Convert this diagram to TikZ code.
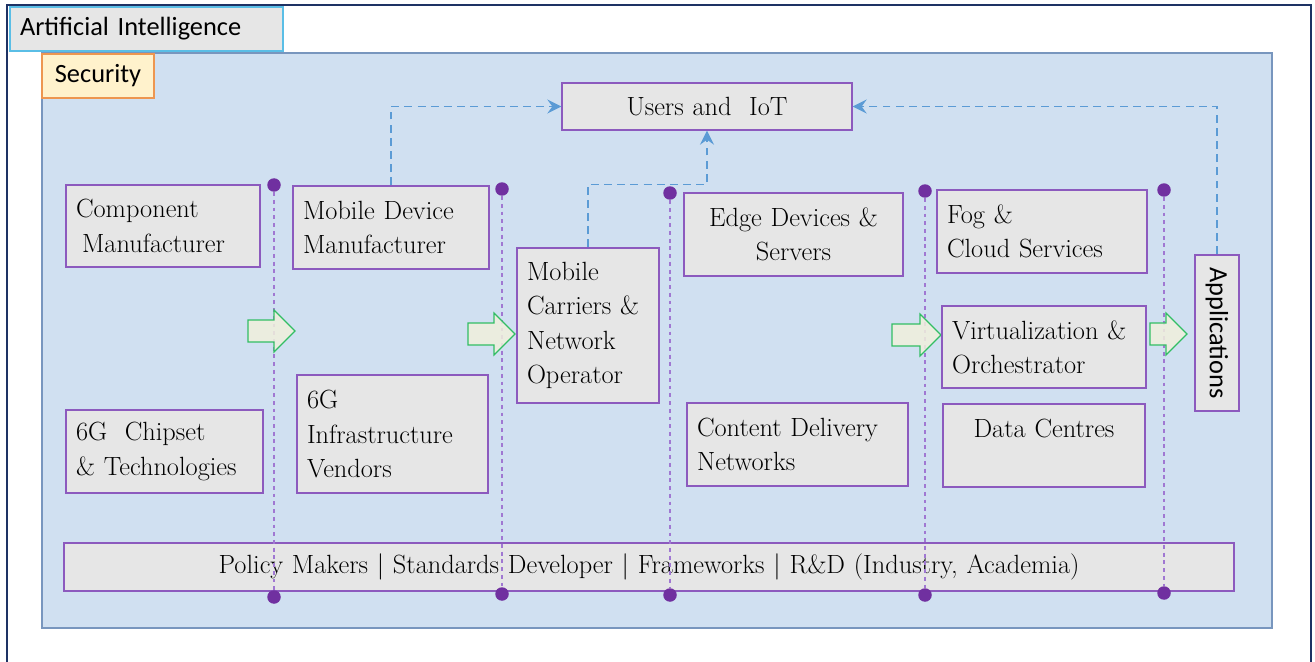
\documentclass[tikz,border=0pt]{standalone}
\usepackage{fontspec}
\usepackage{xcolor}
\usepackage{tikz}
\usetikzlibrary{arrows.meta}
\newfontfamily\calibri{Carlito}
\definecolor{bgblue}{RGB}{208,224,241}
\definecolor{bgline}{RGB}{120,150,190}
\definecolor{boxfill}{RGB}{230,230,230}
\definecolor{boxline}{RGB}{140,90,190}
\definecolor{dotcol}{RGB}{112,48,160}
\definecolor{vlinecol}{RGB}{160,120,210}
\definecolor{linkblue}{RGB}{91,155,213}
\definecolor{ailine}{RGB}{90,190,230}
\definecolor{secfill}{RGB}{255,242,204}
\definecolor{secline}{RGB}{237,150,80}
\definecolor{arrowline}{RGB}{50,190,100}
\definecolor{arrowfill}{RGB}{240,240,220}
\definecolor{framecol}{RGB}{30,50,100}

\begin{document}
\begin{tikzpicture}[x=0.02cm,y=-0.02cm,
    box/.style={draw=boxline,fill=boxfill,line width=0.8pt,font=\fontsize{15}{19.5}\selectfont,inner xsep=0.2cm,inner ysep=0pt},
    lbox/.style={box,align=left},
    cbox/.style={box,align=center},
    sbox/.style={font=\calibri\fontsize{15}{18}\selectfont,line width=0.8pt,inner ysep=0pt},
    dot/.style={circle,fill=dotcol,inner sep=0pt,minimum size=0.27cm},
    vline/.style={draw=vlinecol,dash pattern=on 2.2pt off 2.2pt,line width=0.7pt},
    link/.style={draw=linkblue,dash pattern=on 4.5pt off 3pt,line width=0.9pt,-{Stealth[length=2.8mm,width=2.8mm,inset=1mm]}},
    pics/blockarrow/.style={code={\draw[draw=arrowline,fill=arrowfill,fill opacity=0.85,line width=0.7pt] (0,-11) -- (#1-21,-11) -- (#1-21,-21) -- (#1,0) -- (#1-21,21) -- (#1-21,11) -- (0,11) -- cycle;}}]
    \useasboundingbox (0,0) rectangle (1315,662);
    % frame and layers
    \draw[framecol,line width=0.8pt] (7,662) -- (7,5) -- (1311,5) -- (1311,662);
    \node[sbox,draw=ailine,fill=boxfill,align=left,text width=5.06cm,inner xsep=0.2cm,minimum height=0.88cm] (ai) at (146.5,29) {Artificial Intelligence};
    \draw[fill=bgblue,draw=bgline,line width=0.8pt] (42,53) rectangle (1272,628);
    \node[sbox,draw=secline,fill=secfill,minimum width=2.24cm,minimum height=0.88cm] (sec) at (98,76) {Security};
    \node[cbox,text width=23cm,minimum height=0.96cm] (policy) at (649,567) {Policy Makers | Standards Developer | Frameworks | R\&D (Industry, Academia)};
    % stage separators
    \foreach \x/\t/\b [count=\i] in {274/185/597,502/189/594,670/193/595,925/191/595,1164/190/593}{
      \node[dot] (top\i) at (\x,\t) {};
      \node[dot] (bot\i) at (\x,\b) {};
      \draw[vline] (top\i) -- (bot\i);
    }
    \pic at (248,331) {blockarrow=47};
    \pic at (468,334) {blockarrow=47};
    \pic at (892,335) {blockarrow=49};
    \pic at (1150,334) {blockarrow=37};
    % players
    \node[lbox,text width=3.48cm,minimum height=1.64cm] (comp) at (163,226) {Component\\\hspace{0.12cm}Manufacturer};
    \node[lbox,text width=3.54cm,minimum height=1.66cm] (chip) at (164.5,451.5) {6G~~Chipset\\\&~Technologies};
    \node[lbox,text width=3.52cm,minimum height=1.66cm] (mobdev) at (391,227.5) {Mobile~Device\\Manufacturer};
    \node[lbox,text width=3.42cm,minimum height=2.36cm] (infra) at (392.5,434) {6G\\Infrastructure\\Vendors};
    \node[lbox,text width=2.44cm,minimum height=3.10cm] (carrier) at (588,325.5) {Mobile\\Carriers~\&\\Network\\Operator};
    \node[cbox,text width=5.4cm,minimum height=0.94cm] (users) at (707,106.5) {Users and~~IoT};
    \node[cbox,text width=3.98cm,minimum height=1.66cm] (edge) at (793.5,234.5) {Edge~Devices~\&\\Servers};
    \node[lbox,text width=4.02cm,minimum height=1.66cm] (cdn) at (797.5,444.5) {Content~Delivery\\Networks};
    \node[lbox,text width=3.8cm,minimum height=1.66cm] (fog) at (1042,231.5) {Fog \&\\Cloud~Services};
    \node[lbox,text width=3.68cm,minimum height=1.64cm] (virt) at (1044,347) {Virtualization~\&\\Orchestrator};
    \node[cbox,text width=3.64cm,minimum height=1.66cm] (dc) at (1044,445.5) {Data Centres\\\mbox{}};
    \node[sbox,draw=boxline,fill=boxfill,rotate=-90,minimum width=3.12cm,minimum height=0.88cm,inner xsep=0pt] (apps) at (1217,333) {Applications};
    % links to users
    \draw[link] (mobdev.north) |- (users.west);
    \draw[link] (carrier.north) -- ++(0,-63) -| (users.south);
    \draw[link] (apps.west) |- (users.east);
\end{tikzpicture}
\end{document}
